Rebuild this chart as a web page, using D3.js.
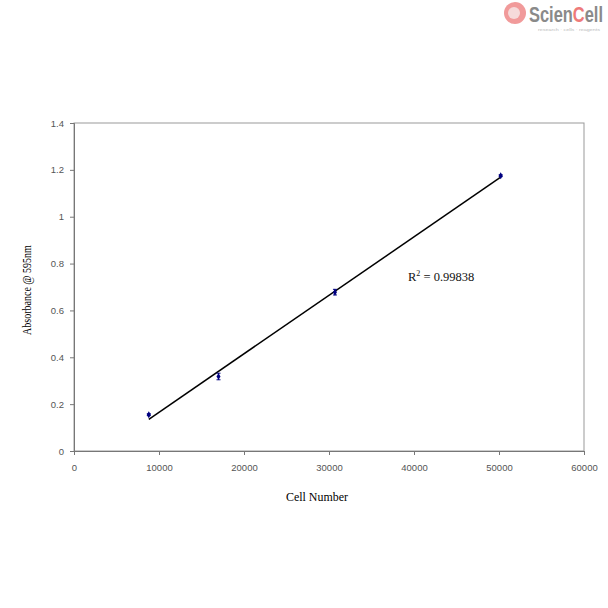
<!DOCTYPE html>
<html><head><meta charset="utf-8">
<script src="https://cdn.jsdelivr.net/npm/d3@7"></script>
<style>body{margin:0;background:#fff}</style>
</head><body>
<script>
const cellNumber = [8800, 17000, 30700, 50200];
const absorbance = [0.155, 0.318, 0.678, 1.175];
const errorBar = [0.004, 0.014, 0.012, 0.004];
const xTicks = [0, 10000, 20000, 30000, 40000, 50000, 60000];
const yTicks = [0, 0.2, 0.4, 0.6, 0.8, 1, 1.2, 1.4];
const r2Label = "0.99838";

const W = 608, H = 608;
const svg = d3.select("body").append("svg").attr("width", W).attr("height", H);
const x = d3.scaleLinear().domain([0, 60000]).range([74, 584]);
const y = d3.scaleLinear().domain([0, 1.4]).range([451, 123]);

// plot border
svg.append("rect").attr("x", 74).attr("y", 123).attr("width", 510).attr("height", 328)
  .attr("fill", "none").attr("stroke", "#999").attr("stroke-width", 1);

const xa = svg.append("g").attr("transform", "translate(0,451)")
  .call(d3.axisBottom(x).tickValues(xTicks).tickFormat(d3.format("d")).tickSize(4).tickPadding(9));
const ya = svg.append("g").attr("transform", "translate(74,0)")
  .call(d3.axisLeft(y).tickValues(yTicks).tickFormat(d => String(+d.toFixed(1))).tickSize(4).tickPadding(6));
[xa, ya].forEach(g => {
  g.select(".domain").attr("stroke", "#777");
  g.selectAll(".tick line").attr("stroke", "#777");
  g.selectAll("text").attr("font-family", "Liberation Sans, Arial, sans-serif").attr("font-size", 9.5).attr("fill", "#555");
});

// regression trendline
const n = cellNumber.length;
const mx = d3.mean(cellNumber), my = d3.mean(absorbance);
let sxy = 0, sxx = 0;
for (let i = 0; i < n; i++) { sxy += (cellNumber[i]-mx)*(absorbance[i]-my); sxx += (cellNumber[i]-mx)**2; }
const slope = sxy/sxx, icpt = my - slope*mx;
const x0 = d3.min(cellNumber), x1 = d3.max(cellNumber);
svg.append("line").attr("x1", x(x0)).attr("y1", y(icpt+slope*x0))
  .attr("x2", x(x1)).attr("y2", y(icpt+slope*x1)).attr("stroke", "#000").attr("stroke-width", 1.5);

// error bars
cellNumber.forEach((cx, i) => {
  const g = svg.append("g").attr("stroke", "#000080").attr("stroke-width", 1);
  g.append("line").attr("x1", x(cx)).attr("x2", x(cx)).attr("y1", y(absorbance[i]-errorBar[i])).attr("y2", y(absorbance[i]+errorBar[i]));
  [absorbance[i]-errorBar[i], absorbance[i]+errorBar[i]].forEach(v =>
    g.append("line").attr("x1", x(cx)-2).attr("x2", x(cx)+2).attr("y1", y(v)).attr("y2", y(v)));
});
// markers
svg.selectAll("path.pt").data(cellNumber).enter().append("path")
  .attr("class", "pt")
  .attr("d", d3.symbol(d3.symbolDiamond, 14))
  .attr("transform", (d, i) => `translate(${x(d)},${y(absorbance[i])})`)
  .attr("fill", "#000080");

const serif = "Liberation Serif, Times New Roman, serif";
// R2 label
const rt = svg.append("text").attr("x", 408).attr("y", 281)
  .attr("font-family", serif).attr("font-size", 12.5).attr("fill", "#111");
rt.append("tspan").text("R");
rt.append("tspan").attr("dy", -5).attr("font-size", 8).text("2");
rt.append("tspan").attr("dy", 5).text(" = " + r2Label);

// squeeze helper: scale a text horizontally to a target width
function squeeze(sel, tx, ty, width, rot) {
  const len = sel.node().getComputedTextLength();
  const s = width / len;
  sel.attr("transform", `translate(${tx},${ty})` + (rot ? ` rotate(${rot})` : "") + ` scale(${s},1)`);
}

// axis titles
const xt = svg.append("text").attr("font-family", serif).attr("font-size", 13).attr("fill", "#000").text("Cell Number");
squeeze(xt, 286, 501, 62);
const yt = svg.append("text").attr("font-family", serif).attr("font-size", 13).attr("fill", "#000").text("Absorbance @ 595nm");
squeeze(yt, 31, 335, 90, -90);

// logo
svg.append("circle").attr("cx", 515).attr("cy", 13).attr("r", 11).attr("fill", "#f19a9a");
svg.append("circle").attr("cx", 514).attr("cy", 13).attr("r", 6).attr("fill", "#f6dada");
const lt = svg.append("text").attr("font-family", "Liberation Sans, DejaVu Sans, sans-serif")
  .attr("font-weight", "bold").attr("font-size", 22).attr("fill", "#8a8a8a");
lt.append("tspan").text("Scien");
lt.append("tspan").attr("fill", "#ee7a7a").text("C");
lt.append("tspan").text("ell");
squeeze(lt, 529, 22, 74);
const st = svg.append("text").attr("font-family", "Liberation Sans, sans-serif").attr("font-size", 4).attr("fill", "#bbb")
  .text("research  ·  cells  ·  reagents");
squeeze(st, 538, 31, 62);
</script>
</body></html>
